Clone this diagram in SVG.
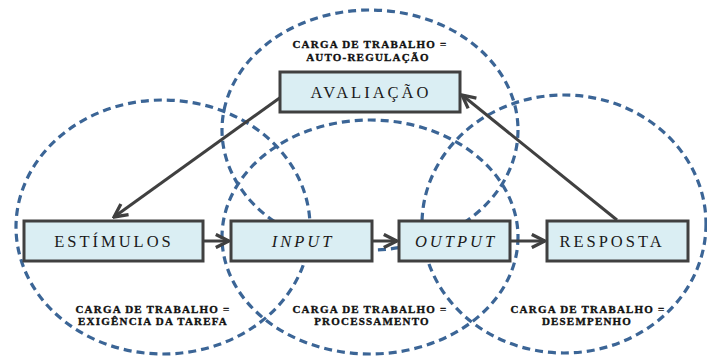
<svg xmlns="http://www.w3.org/2000/svg" width="707" height="356" viewBox="0 0 707 356">
<style>
.ring{fill:none;stroke:#3B6596;stroke-width:3.2;stroke-dasharray:8 5}
.box{fill:#DAEEF3;stroke:#404040;stroke-width:3}
.bt{font-family:"Liberation Serif",serif;font-size:16.5px;letter-spacing:3px;fill:#1a1a1a;text-anchor:middle}
.it{font-style:italic}
.lb{font-family:"Liberation Serif",serif;font-size:11px;font-weight:bold;letter-spacing:1.2px;fill:#111;stroke:#111;stroke-width:0.35;text-anchor:middle}
.con{stroke:#404040;stroke-width:3;fill:none}
</style>
<defs>
<marker id="ah" viewBox="0 0 10 10" refX="9" refY="5" markerWidth="5.5" markerHeight="5.5" orient="auto" markerUnits="strokeWidth">
<path d="M1,1 L9,5 L1,9" fill="none" stroke="#404040" stroke-width="2"/>
</marker>
</defs>
<g id="rings">
<ellipse class="ring" cx="163" cy="227" rx="147" ry="127"/>
<ellipse class="ring" cx="370" cy="130" rx="148" ry="120"/>
<ellipse class="ring" cx="370" cy="237" rx="148" ry="117"/>
<ellipse class="ring" cx="564" cy="224" rx="142" ry="129"/>
</g>
<g id="connectors">
<line class="con" x1="203" y1="241" x2="229" y2="241" marker-end="url(#ah)"/>
<line class="con" x1="372" y1="241" x2="397" y2="241" marker-end="url(#ah)"/>
<line class="con" x1="510" y1="241" x2="545" y2="241" marker-end="url(#ah)"/>
<line class="con" x1="281" y1="97" x2="114" y2="217" marker-end="url(#ah)"/>
<line class="con" x1="617" y1="220" x2="462" y2="95" marker-end="url(#ah)"/>
</g>
<g id="avaliacao">
<rect class="box" x="280" y="72" width="180" height="40"/>
<text class="bt" x="371" y="98">AVALIAÇÃO</text>
</g>
<g id="estimulos">
<rect class="box" x="24" y="221" width="179" height="40"/>
<text class="bt" x="114" y="247">ESTÍMULOS</text>
</g>
<g id="input">
<rect class="box" x="231" y="221" width="141" height="40"/>
<text class="bt it" x="303" y="247">INPUT</text>
</g>
<g id="output">
<rect class="box" x="399" y="221" width="111" height="40"/>
<text class="bt it" x="456" y="247">OUTPUT</text>
</g>
<g id="resposta">
<rect class="box" x="547" y="221" width="141" height="40"/>
<text class="bt" x="612" y="247">RESPOSTA</text>
</g>
<g id="labels">
<text class="lb" x="370" y="48">CARGA DE TRABALHO =</text>
<text class="lb" x="368" y="61">AUTO-REGULAÇÃO</text>
<text class="lb" x="153" y="313">CARGA DE TRABALHO =</text>
<text class="lb" x="153" y="325">EXIGÊNCIA DA TAREFA</text>
<text class="lb" x="370" y="313">CARGA DE TRABALHO =</text>
<text class="lb" x="372" y="325">PROCESSAMENTO</text>
<text class="lb" x="588" y="313">CARGA DE TRABALHO =</text>
<text class="lb" x="587" y="325">DESEMPENHO</text>
</g>
</svg>
